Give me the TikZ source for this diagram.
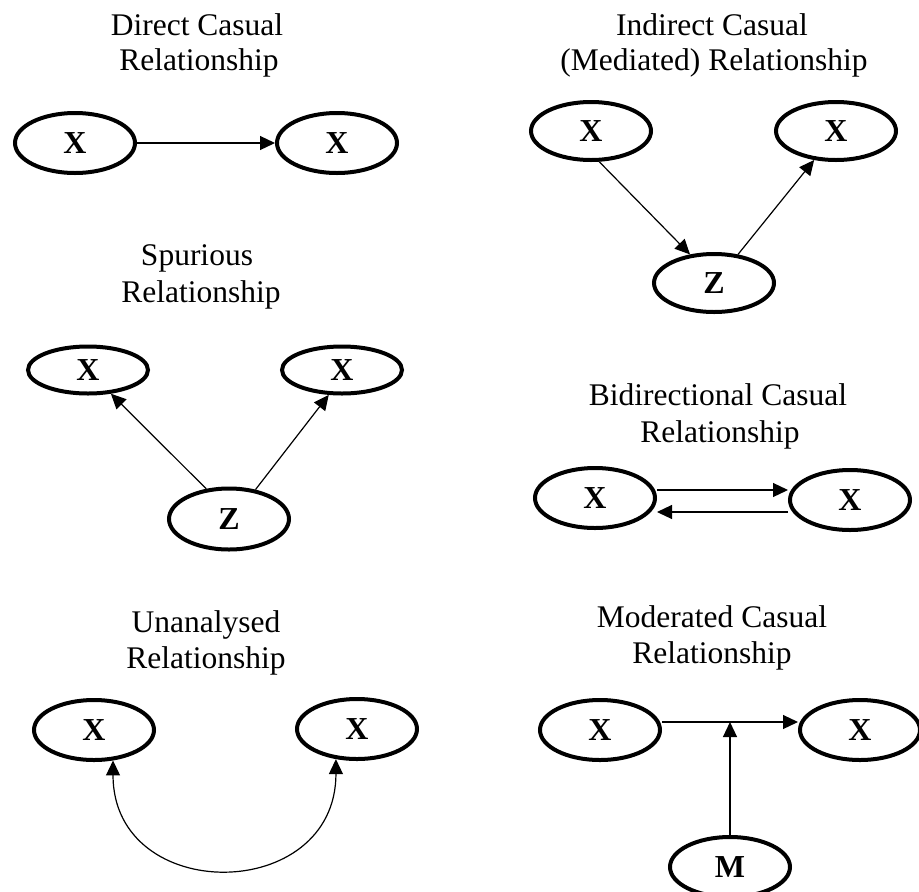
\documentclass[tikz,border=0pt]{standalone}
\usepackage{fontspec}
\setmainfont{Liberation Serif}
\usetikzlibrary{arrows.meta,shapes.geometric,calc}

\tikzset{
  var/.style={draw, ellipse, line width=4pt, inner sep=0pt,
    minimum width=120pt, minimum height=60pt,
    font=\fontsize{32}{32}\selectfont\bfseries},
  title/.style={anchor=base, inner sep=0pt, font=\fontsize{31.5}{36}\selectfont},
  arr/.style={line width=1.2pt, -{Triangle[length=15pt,width=14pt]}},
  biarr/.style={line width=1.2pt, {Triangle[length=15pt,width=14pt]}-{Triangle[length=15pt,width=14pt]}}
}

\begin{document}
\begin{tikzpicture}[x=1pt, y=-1pt]
\useasboundingbox (0,0) rectangle (919,892);
\clip (0,0) rectangle (919,892);

% Direct causal relationship
\node[title] (t1a) at (197,35) {Direct Casual};
\node[title] (t1b) at (199,70) {Relationship};
\node[var] (a1) at (75,143) {X};
\node[var] (b1) at (337,143) {X};
\draw[arr] (a1) -- (b1);

% Indirect (mediated) relationship
\node[title] (t2a) at (712,35) {Indirect Casual};
\node[title] (t2b) at (714,70) {(Mediated) Relationship};
\node[var, minimum height=58pt] (a2) at (591,131) {X};
\node[var, minimum height=58pt] (b2) at (836,131) {X};
\node[var, minimum height=58pt] (z2) at (714,283) {Z};
\draw[arr] (a2.-75) -- (z2.130);
\draw[arr] (z2.50) -- (b2.-127);

% Spurious relationship
\node[title] (t3a) at (197,265) {Spurious};
\node[title] (t3b) at (201,302) {Relationship};
\node[var, minimum height=47pt] (a3) at (88,370) {X};
\node[var, minimum height=47pt] (b3) at (342,370) {X};
\node[var, minimum height=61pt] (z3) at (229,519) {Z};
\draw[arr] (z3.127) -- (a3.-46);
\draw[arr] (z3.48) -- (b3.-118);

% Bidirectional causal relationship
\node[title] (t4a) at (718,405) {Bidirectional Casual};
\node[title] (t4b) at (720,442) {Relationship};
\node[var] (a4) at (595,498) {X};
\node[var] (b4) at (850,500) {X};
\draw[arr] ([yshift=8pt]a4.east) -- ([yshift=8pt]a4.east -| b4.west);
\draw[arr] ([yshift=-12pt]b4.west) -- ([yshift=-12pt]b4.west -| a4.east);

% Unanalysed relationship
\node[title] (t5a) at (206,632) {Unanalysed};
\node[title] (t5b) at (206,668) {Relationship};
\node[var] (a5) at (94,730) {X};
\node[var] (b5) at (357,729) {X};
\draw[biarr] (a5.-58) .. controls +(0,145) and +(0,145) .. (b5.-125);

% Moderated causal relationship
\node[title] (t6a) at (712,627) {Moderated Casual};
\node[title] (t6b) at (712,663) {Relationship};
\node[var] (a6) at (600,730) {X};
\node[var] (b6) at (860,730) {X};
\node[var] (m6) at (730,867) {M};
\draw[arr] ([yshift=8pt]a6.east) -- ([yshift=8pt]a6.east -| b6.west);
\draw[arr] (m6.north) -- ([yshift=8pt]a6.east -| m6.north);
\end{tikzpicture}
\end{document}
